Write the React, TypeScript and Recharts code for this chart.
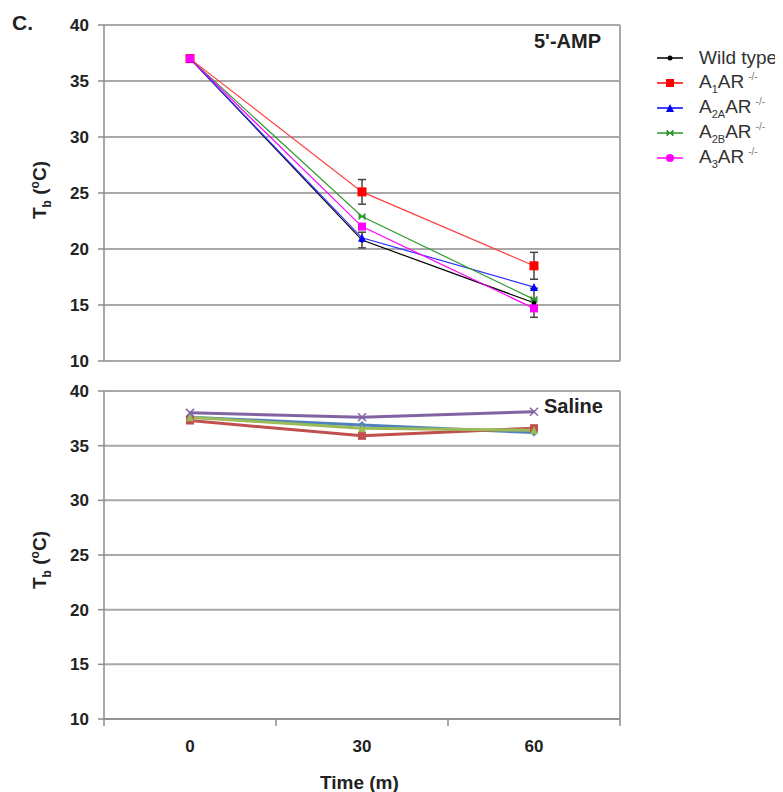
import React from 'react'
import {
    LineChart,
    Line,
    XAxis,
    YAxis,
    CartesianGrid,
    ReferenceLine,
    ErrorBar,
} from 'recharts'

// time points (minutes)
const TIMES = [0, 30, 60]
const Y_TICKS = [10, 15, 20, 25, 30, 35, 40]
const X_TICKS = [-15, 0, 15, 30, 45, 60, 75]

// 5'-AMP panel
const AMP_WT = [37, 20.8, 15.2]
const AMP_A1 = [37, 25.1, 18.5]
const AMP_A2A = [37, 21.0, 16.6]
const AMP_A2B = [37, 22.9, 15.5]
const AMP_A3 = [37, 22.0, 14.7]
const AMP_WT_ERR = [0, 0.7, 1.3]
const AMP_A1_ERR = [0, 1.1, 1.2]

// Saline panel
const SAL_BLUE = [37.6, 36.9, 36.2]
const SAL_RED = [37.3, 35.9, 36.6]
const SAL_GREEN = [37.6, 36.6, 36.4]
const SAL_PURPLE = [38.0, 37.6, 38.1]

const ampData = TIMES.map((t, i) => ({
    time: t,
    wt: AMP_WT[i],
    a1: AMP_A1[i],
    a2a: AMP_A2A[i],
    a2b: AMP_A2B[i],
    a3: AMP_A3[i],
    wtErr: AMP_WT_ERR[i],
    a1Err: AMP_A1_ERR[i],
}))

const salData = TIMES.map((t, i) => ({
    time: t,
    blue: SAL_BLUE[i],
    red: SAL_RED[i],
    green: SAL_GREEN[i],
    purple: SAL_PURPLE[i],
}))

const FONT = '"Liberation Sans", Arial, sans-serif'
const GRID = '#a8a8a8'
const AXIS = '#8c8c8c'

type Shape = 'circle' | 'square' | 'triangle' | 'diamond' | 'x' | 'bowtie'

function marker(shape: Shape, color: string, size: number) {
    return (props: any) => {
        const { cx, cy, index } = props
        const h = size / 2
        const key = `m-${index}`
        if (cx == null || cy == null) return <g key={key} />
        switch (shape) {
            case 'square':
                return <rect key={key} x={cx - h} y={cy - h} width={size} height={size} fill={color} />
            case 'triangle':
                return <polygon key={key} points={`${cx},${cy - h} ${cx + h},${cy + h} ${cx - h},${cy + h}`} fill={color} />
            case 'diamond':
                return <polygon key={key} points={`${cx},${cy - h} ${cx + h},${cy} ${cx},${cy + h} ${cx - h},${cy}`} fill={color} />
            case 'x':
                return (
                    <g key={key} stroke={color} strokeWidth={1.5}>
                        <line x1={cx - h} y1={cy - h} x2={cx + h} y2={cy + h} />
                        <line x1={cx - h} y1={cy + h} x2={cx + h} y2={cy - h} />
                    </g>
                )
            case 'bowtie':
                return <polygon key={key} points={`${cx - h},${cy - h} ${cx + h},${cy + h} ${cx + h},${cy - h} ${cx - h},${cy + h}`} fill={color} stroke={color} strokeWidth={1} />
            default:
                return <circle key={key} cx={cx} cy={cy} r={h} fill={color} />
        }
    }
}

// label at category centres, small tick at the boundaries
const TimeTick = (props: any) => {
    const { x, y, payload } = props
    const v = payload.value
    if (v % 30 !== 0) {
        return <line x1={x} x2={x} y1={y - 8} y2={y - 1} stroke={AXIS} strokeWidth={1.5} />
    }
    return (
        <text x={x} y={y} dy={25} textAnchor="middle" fontFamily={FONT} fontWeight="bold" fontSize={17} fill="#222">
            {v}
        </text>
    )
}

const yTick = { fontFamily: FONT, fontWeight: 'bold', fontSize: 17, fill: '#222' }

function TbLabel({ top }: { top: number }) {
    return (
        <div
            style={{
                position: 'absolute',
                left: 27 - 60,
                top: top - 12,
                width: 120,
                height: 24,
                textAlign: 'center',
                transform: 'rotate(-90deg)',
                fontFamily: FONT,
                fontWeight: 'bold',
                fontSize: 19,
                color: '#222',
                lineHeight: '24px',
                whiteSpace: 'nowrap',
            }}
        >
            T<sub style={{ fontSize: 12 }}>b</sub> (<sup style={{ fontSize: 12 }}>o</sup>C)
        </div>
    )
}

const LEGEND = [
    { name: 'Wild type', color: '#000000', shape: 'circle' as Shape, size: 5, sub: '', sup: '' },
    { name: 'A', color: '#ff0000', shape: 'square' as Shape, size: 8, sub: '1', sup: '-/-' },
    { name: 'A', color: '#0000ff', shape: 'triangle' as Shape, size: 8, sub: '2A', sup: '-/-' },
    { name: 'A', color: '#2e9a2e', shape: 'bowtie' as Shape, size: 6, sub: '2B', sup: '-/-' },
    { name: 'A', color: '#ff00ff', shape: 'circle' as Shape, size: 8, sub: '3', sup: '-/-' },
]

export default function App() {
    return (
        <div style={{ position: 'relative', width: 775, height: 784, fontFamily: FONT, background: '#fff' }}>
            <div style={{ position: 'absolute', left: 4, top: 3, fontSize: 21, fontWeight: 'bold', color: '#222' }}>C.</div>

            {/* 5'-AMP panel */}
            <div style={{ position: 'absolute', left: 0, top: 0 }}>
                <LineChart width={640} height={370} data={ampData} margin={{ top: 17, right: 28, bottom: 17, left: 36 }}>
                    <CartesianGrid vertical={false} stroke={GRID} strokeWidth={2} />
                    <XAxis type="number" dataKey="time" domain={[-15, 75]} ticks={X_TICKS} hide />
                    <YAxis
                        domain={[10, 40]}
                        ticks={Y_TICKS}
                        width={60}
                        tick={yTick}
                        tickSize={6}
                        tickMargin={9}
                        stroke={AXIS}
                        strokeWidth={1.5}
                        interval={0}
                    />
                    <ReferenceLine x={75} stroke={GRID} strokeWidth={2} />
                    <Line dataKey="wt" stroke="#000" strokeWidth={1.2} dot={marker('circle', '#000', 5)} isAnimationActive={false}>
                        <ErrorBar dataKey="wtErr" width={4} stroke="#444" strokeWidth={1.5} direction="y" />
                    </Line>
                    <Line dataKey="a1" stroke="#ff4040" strokeWidth={1.2} dot={marker('square', '#ff0000', 9)} isAnimationActive={false}>
                        <ErrorBar dataKey="a1Err" width={4} stroke="#444" strokeWidth={1.5} direction="y" />
                    </Line>
                    <Line dataKey="a2a" stroke="#3030ff" strokeWidth={1.2} dot={marker('triangle', '#0000ff', 8)} isAnimationActive={false} />
                    <Line dataKey="a2b" stroke="#2e9a2e" strokeWidth={1.2} dot={marker('bowtie', '#2e9a2e', 6)} isAnimationActive={false} />
                    <Line dataKey="a3" stroke="#ff00ff" strokeWidth={1.2} dot={marker('square', '#ff00ff', 8)} isAnimationActive={false} />
                </LineChart>
            </div>
            <div style={{ position: 'absolute', left: 526, top: 22, fontSize: 20, fontWeight: 'bold', color: '#222' }}>5'-AMP</div>

            {/* Saline panel */}
            <div style={{ position: 'absolute', left: 0, top: 370 }}>
                <LineChart width={640} height={410} data={salData} margin={{ top: 13, right: 28, bottom: 29, left: 36 }}>
                    <CartesianGrid vertical={false} stroke={GRID} strokeWidth={2} />
                    <XAxis
                        type="number"
                        dataKey="time"
                        domain={[-15, 75]}
                        ticks={X_TICKS}
                        interval={0}
                        height={40}
                        tickLine={false}
                        tick={<TimeTick />}
                        stroke={AXIS}
                        strokeWidth={1.5}
                    />
                    <YAxis
                        domain={[10, 40]}
                        ticks={Y_TICKS}
                        width={60}
                        tick={yTick}
                        tickSize={6}
                        tickMargin={9}
                        stroke={AXIS}
                        strokeWidth={1.5}
                        interval={0}
                    />
                    <ReferenceLine x={75} stroke={GRID} strokeWidth={2} />
                    <Line dataKey="blue" stroke="#4f81bd" strokeWidth={3} dot={marker('diamond', '#4f81bd', 8)} isAnimationActive={false} />
                    <Line dataKey="red" stroke="#c0504d" strokeWidth={3} dot={marker('square', '#c0504d', 8)} isAnimationActive={false} />
                    <Line dataKey="green" stroke="#9bbb59" strokeWidth={3} dot={marker('triangle', '#9bbb59', 8)} isAnimationActive={false} />
                    <Line dataKey="purple" stroke="#8064a2" strokeWidth={3} dot={marker('x', '#8064a2', 8)} isAnimationActive={false} />
                </LineChart>
            </div>
            <div style={{ position: 'absolute', left: 536, top: 387, fontSize: 20, fontWeight: 'bold', color: '#222' }}>Saline</div>

            <TbLabel top={182} />
            <TbLabel top={552} />

            <div style={{ position: 'absolute', left: 312, top: 764, fontSize: 19, fontWeight: 'bold', color: '#222' }}>Time (m)</div>

            {/* legend */}
            <div style={{ position: 'absolute', left: 646, top: 37 }}>
                {LEGEND.map((item, i) => (
                    <div key={i} style={{ display: 'flex', alignItems: 'center', height: 25, whiteSpace: 'nowrap' }}>
                        <svg width={30} height={12} style={{ marginRight: 15 }}>
                            <line x1={3} x2={29} y1={6} y2={6} stroke={item.color} strokeWidth={1.5} />
                            {marker(item.shape, item.color, item.size)({ cx: 16, cy: 6, index: i })}
                        </svg>
                        <span style={{ fontSize: 19, color: '#333' }}>
                            {item.name}
                            {item.sub && <sub style={{ fontSize: 11 }}>{item.sub}</sub>}
                            {item.sub && 'AR'}
                            {item.sup && <sup style={{ fontSize: 10, marginLeft: 4, color: '#777' }}>{item.sup}</sup>}
                        </span>
                    </div>
                ))}
            </div>
        </div>
    )
}
